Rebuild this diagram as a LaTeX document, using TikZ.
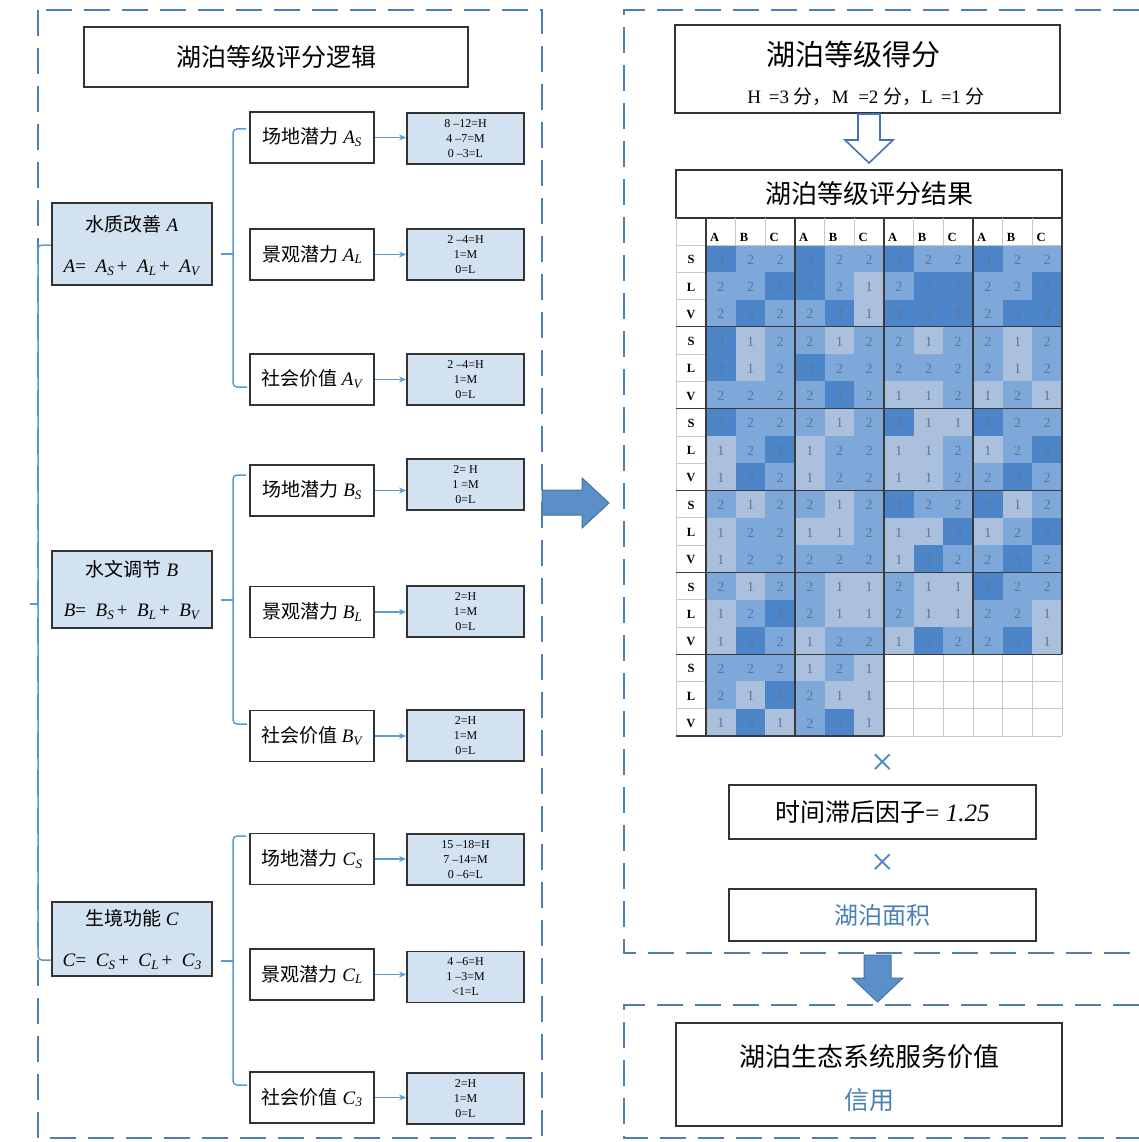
\documentclass[tikz,border=0pt]{standalone}
\usepackage{fontspec}
\setmainfont{Liberation Serif}
\newfontfamily\cjk{Noto Sans CJK SC}
\usetikzlibrary{arrows.meta}
\definecolor{dashblue}{HTML}{4F7FB0}
\definecolor{linkblue}{HTML}{5B9BD5}
\definecolor{boxfill}{HTML}{D3E2F1}
\definecolor{boxline}{HTML}{333333}
\definecolor{cv1}{HTML}{AAC0DC}
\definecolor{cv2}{HTML}{7DA8D9}
\definecolor{cv3}{HTML}{4C86C8}
\definecolor{numgray}{HTML}{5E7592}
\definecolor{gridgray}{HTML}{C8C8C8}
\definecolor{gridDark}{HTML}{3A3A3A}
\definecolor{bigarrow}{HTML}{5B8FC8}
\definecolor{bigarrowline}{HTML}{4472A8}
\definecolor{textblue}{HTML}{4A7FB8}
\newcommand\fsz[2]{\fontsize{#1}{#2}\selectfont}
\newcommand\sbx[2]{\raisebox{-0.15em}{\fontsize{#1}{#1}\selectfont\textit{#2}}}
\tikzset{
  panel/.style={dashblue, line width=2pt, dash pattern=on 26pt off 12pt},
  whitebox/.style={draw=boxline, line width=1.7pt, fill=white, inner sep=0pt},
  bluebox/.style={draw=boxline, line width=1.9pt, fill=boxfill, inner sep=0pt},
  subbox/.style={whitebox, minimum width=124pt, minimum height=51pt, font=\fsz{19}{21}},
  rulebox/.style={bluebox, minimum width=117pt, minimum height=51pt, font=\fsz{12}{15}, align=center},
  link/.style={linkblue, line width=1.5pt, rounded corners=4pt},
  arr/.style={linkblue, line width=1.5pt, -{Stealth[length=7pt,width=6pt]}},
  numt/.style={font=\fsz{14}{14}, text=numgray, inner sep=0pt},
  lab/.style={font=\fsz{12.5}{13}\bfseries, inner sep=0pt},
  thin/.style={gridgray, line width=0.7pt},
  thick/.style={gridDark, line width=1.2pt},
  timesym/.style={text=cv3, font=\fsz{40}{40}, inner sep=0pt},
}
\begin{document}
\begin{tikzpicture}[x=1pt,y=-1pt]
\useasboundingbox (0,0) rectangle (1139,1142);
% panels
\draw[panel] (38,10) rectangle (542,1138);
\draw[panel] (1139,10) -- (624,10) -- (624,953) -- (1139,953);
\draw[panel] (1139,1005) -- (624,1005) -- (624,1138) -- (1139,1138);

% ---------- left panel ----------
\node[whitebox, minimum width=384pt, minimum height=60pt, font=\cjk\fsz{25}{28}] (t1) at (276,57) {湖泊等级评分逻辑};

\node[bluebox, minimum width=160pt, minimum height=82pt] (A) at (132,244) {};
\node[font=\fsz{19}{21}] (Ah) at (132,224) {{\cjk 水质改善} \textit{A}};
\node[font=\fsz{19}{21}] (Af) at (132,268) {\textit{A}= \ \textit{A}\sbx{13}{S}\,+ \ \textit{A}\sbx{13}{L}\,+ \ \textit{A}\sbx{13}{V}};

\node[bluebox, minimum width=160pt, minimum height=77pt] (B) at (132,589.5) {};
\node[font=\fsz{19}{21}] (Bh) at (132,569) {{\cjk 水文调节} \textit{B}};
\node[font=\fsz{19}{21}] (Bf) at (132,612) {\textit{B}= \ \textit{B}\sbx{13}{S}\,+ \ \textit{B}\sbx{13}{L}\,+ \ \textit{B}\sbx{13}{V}};

\node[bluebox, minimum width=160pt, minimum height=74pt] (C) at (132,939) {};
\node[font=\fsz{19}{21}] (Ch) at (132,918) {{\cjk 生境功能} \textit{C}};
\node[font=\fsz{19}{21}] (Cf) at (132,962) {\textit{C}= \ \textit{C}\sbx{13}{S}\,+ \ \textit{C}\sbx{13}{L}\,+ \ \textit{C}\sbx{13}{3}};

% sub boxes
\node[subbox] (As) at (312,137.5) {{\cjk 场地潜力} \textit{A}\sbx{13}{S}};
\node[subbox] (Al) at (312,254.5) {{\cjk 景观潜力} \textit{A}\sbx{13}{L}};
\node[subbox] (Av) at (312,379.5) {{\cjk 社会价值} \textit{A}\sbx{13}{V}};
\node[subbox] (Bs) at (312,490.5) {{\cjk 场地潜力} \textit{B}\sbx{13}{S}};
\node[subbox] (Bl) at (312,612) {{\cjk 景观潜力} \textit{B}\sbx{13}{L}};
\node[subbox] (Bv) at (312,736) {{\cjk 社会价值} \textit{B}\sbx{13}{V}};
\node[subbox] (Cs) at (312,859) {{\cjk 场地潜力} \textit{C}\sbx{13}{S}};
\node[subbox] (Cl) at (312,974.5) {{\cjk 景观潜力} \textit{C}\sbx{13}{L}};
\node[subbox] (Cv) at (312,1097.5) {{\cjk 社会价值} \textit{C}\sbx{13}{3}};

% rule boxes
\node[rulebox] (rAs) at (465.5,138.5) {8 –12=H\\4 –7=M\\0 –3=L};
\node[rulebox] (rAl) at (465.5,254.5) {2 –4=H\\1=M\\0=L};
\node[rulebox] (rAv) at (465.5,379.5) {2 –4=H\\1=M\\0=L};
\node[rulebox] (rBs) at (465.5,484.5) {2= H\\1 =M\\0=L};
\node[rulebox] (rBl) at (465.5,611.5) {2=H\\1=M\\0=L};
\node[rulebox] (rBv) at (465.5,735.5) {2=H\\1=M\\0=L};
\node[rulebox] (rCs) at (465.5,859.5) {15 –18=H\\7 –14=M\\0 –6=L};
\node[rulebox] (rCl) at (465.5,977) {4 –6=H\\1 –3=M\\<1=L};
\node[rulebox] (rCv) at (465.5,1098.5) {2=H\\1=M\\0=L};

\foreach \s in {As,Al,Av,Bs,Bl,Bv,Cs,Cl,Cv}
  \draw[arr] (\s.east) -- (r\s.west |- \s.east);

% braces
\coordinate (oTop) at (38,245);
\coordinate (oBot) at (38,960);
\coordinate (oMid) at (38,604);
\draw[link] (A.west |- oTop) -- (oTop) -- (oBot) -- (C.west |- oBot);
\draw[link] (oMid) -- ++(-8,0);

\coordinate (aT) at (233,129); \coordinate (aB) at (233,387); \coordinate (aM) at (233,254);
\draw[link] (As.west |- aT) ++(-3,0) -- (aT) -- (aB) -- ++(14,0);
\draw[link] (A.east |- aM) ++(8,0) -- (aM);

\coordinate (bT) at (233,475); \coordinate (bB) at (233,724); \coordinate (bM) at (233,600);
\draw[link] (Bs.west |- bT) ++(-3,0) -- (bT) -- (bB) -- ++(14,0);
\draw[link] (B.east |- bM) ++(8,0) -- (bM);

\coordinate (cT) at (233,836); \coordinate (cB) at (233,1085); \coordinate (cM) at (233,961);
\draw[link] (Cs.west |- cT) ++(-3,0) -- (cT) -- (cB) -- ++(14,0);
\draw[link] (C.east |- cM) ++(8,0) -- (cM);

% big arrow between panels
\draw[fill=bigarrow, draw=bigarrowline, line width=1pt]
  (542,490) -- (582,490) -- (582,478) -- (609,503) -- (582,528) -- (582,515) -- (542,515) -- cycle;

% ---------- right panel ----------
\node[whitebox, minimum width=385pt, minimum height=88pt] (score) at (867.5,69) {};
\node[font=\cjk\fsz{29}{32}] (scoreT) at (853,54) {湖泊等级得分};
\node[font=\fsz{19}{21}] (scoreS) at (866,97) {H \,=3 {\cjk 分}{\cjk ，}M \ =2 {\cjk 分}{\cjk ，}L \,=1 {\cjk 分}};

\node[whitebox, minimum width=386pt, minimum height=48pt, font=\cjk\fsz{26}{28}] (res) at (869,194) {湖泊等级评分结果};

\draw[draw=dashblue!90!blue, line width=1.6pt, fill=white]
  (858,114) -- (880,114) -- (880,140) -- (893,140) -- (869,163) -- (845,140) -- (858,140) -- cycle;

% table
\def\cw{29.667}
\def\rh{27.278}
\foreach \vals [count=\r] in {
 {3,2,2,3,2,2,3,2,2,3,2,2},
 {2,2,3,3,2,1,2,3,3,2,2,3},
 {2,3,2,2,3,1,3,3,3,2,3,3},
 {3,1,2,2,1,2,2,1,2,2,1,2},
 {3,1,2,3,2,2,2,2,2,2,1,2},
 {2,2,2,2,3,2,1,1,2,1,2,1},
 {3,2,2,2,1,2,3,1,1,3,2,2},
 {1,2,3,1,2,2,1,1,2,1,2,3},
 {1,3,2,1,2,2,1,1,2,2,3,2},
 {2,1,2,2,1,2,3,2,2,3,1,2},
 {1,2,2,1,1,2,1,1,3,1,2,3},
 {1,2,2,2,2,2,1,3,2,2,3,2},
 {2,1,2,2,1,1,2,1,1,3,2,2},
 {1,2,3,2,1,1,2,1,1,2,2,1},
 {1,3,2,1,2,2,1,3,2,2,3,1},
 {2,2,2,1,2,1},
 {2,1,3,2,1,1},
 {1,3,1,2,3,1}}
{
  \foreach \v [count=\c] in \vals {
    \pgfmathsetmacro\xx{706+(\c-1)*\cw}
    \pgfmathsetmacro\yy{245+(\r-1)*\rh}
    \fill[cv\v] (\xx,\yy) rectangle ++(\cw,\rh);
    \node[numt] (cell-\r-\c) at (\xx+\cw/2, \yy+\rh/2+1) {\v};
  }
}
% empty region grid
\foreach \k in {0,...,6} \draw[thin] ({884+\k*\cw},{245+15*\rh}) -- ({884+\k*\cw},736);
\foreach \k in {1,2,3} \draw[thin] (884,{245+(15+\k)*\rh}) -- (1062,{245+(15+\k)*\rh});
% label column
\draw[thin] (676,218) -- (676,736);
\foreach \k in {0,...,18} \draw[thin] (676,{245+\k*\rh}) -- (706,{245+\k*\rh});
\foreach \k in {1,2,4,5,7,8,10,11} \draw[thin] ({706+\k*\cw},218) -- ({706+\k*\cw},245);
\draw[thin] (706,245) -- (1062,245);
\foreach \k [count=\i] in {0,3,6,9,12,15} {
  \node[lab] (rs\i) at (691,{245+(\k+0.5)*\rh+1}) {S};
  \node[lab] (rl\i) at (691,{245+(\k+1.5)*\rh+1}) {L};
  \node[lab] (rv\i) at (691,{245+(\k+2.5)*\rh+1}) {V};
}
\foreach \g in {0,1,2,3} {
  \node[lab, anchor=west] (hA\g) at ({706+3*\g*\cw+4},237) {A};
  \node[lab, anchor=west] (hB\g) at ({706+(3*\g+1)*\cw+4},237) {B};
  \node[lab, anchor=west] (hC\g) at ({706+(3*\g+2)*\cw+4},237) {C};
}
\foreach \k in {1,...,5} \draw[thick] (676,{245+3*\k*\rh}) -- (1062,{245+3*\k*\rh});
\draw[thick] (676,736) -- (884,736);
\draw[thick] (706,218) -- (706,736);
\draw[thick] (795,218) -- (795,736);
\draw[thick] (884,218) -- (884,736);
\draw[thick] (973,218) -- (973,654.2);
\draw[thick] (1062,218) -- (1062,654.2);

\node[timesym] (x1) at (883,765) {×};
\node[whitebox, minimum width=307pt, minimum height=54pt, font=\fsz{25}{28}] (lag) at (882.5,812) {{\cjk 时间滞后因子}= \textit{1.25}};
\node[timesym] (x2) at (883,865) {×};
\node[whitebox, minimum width=307pt, minimum height=52pt, font=\cjk\fsz{24}{26}, text=textblue] (area) at (882.5,915) {湖泊面积};

\draw[fill=bigarrow, draw=bigarrowline, line width=1pt]
  (864,955) -- (891,955) -- (891,978) -- (903,978) -- (877.5,1002) -- (852,978) -- (864,978) -- cycle;

\node[whitebox, minimum width=386pt, minimum height=103pt] (final) at (869,1074.5) {};
\node[font=\cjk\fsz{26}{28}] (finalT) at (869,1057) {湖泊生态系统服务价值};
\node[font=\cjk\fsz{25}{28}, text=textblue] (finalS) at (869,1100) {信用};
\end{tikzpicture}
\end{document}
